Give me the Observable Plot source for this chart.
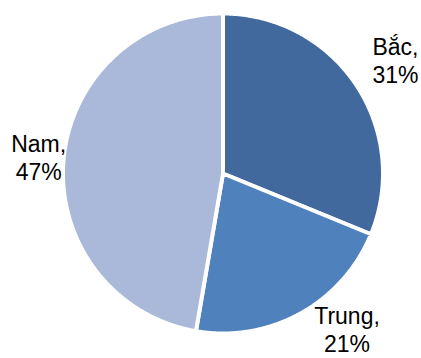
<!DOCTYPE html>
<html>
<head>
<meta charset="utf-8">
<script src="https://cdn.jsdelivr.net/npm/d3@7"></script>
<script src="https://cdn.jsdelivr.net/npm/@observablehq/plot@0.6"></script>
<style>
  html, body { margin: 0; padding: 0; background: #fff; }
  #chart svg { display: block; }
</style>
</head>
<body>
<div id="chart"></div>
<script>
// Data
const categories = ["Bắc", "Trung", "Nam"];
const shares = [31.2, 21.5, 47.3];
const shareLabels = ["31%", "21%", "47%"];
const colors = ["#41699E", "#4F81BD", "#AAB9D9"];

// label nudges (pixels) relative to a point on the mid-angle ray
const labelNudge = [[13, -7], [31, -12], [7, 0]];

const W = 421, H = 358;
const cx = 222.5, cy = 173, R = 160;

const arcs = d3.pie().sort(null).value(d => d)(shares);

function slicePoints(a) {
  const pts = [{x: 0, y: 0}];
  const n = Math.max(2, Math.ceil((a.endAngle - a.startAngle) / (Math.PI / 360)));
  for (let i = 0; i <= n; i++) {
    const t = a.startAngle + (a.endAngle - a.startAngle) * i / n;
    pts.push({x: Math.sin(t), y: Math.cos(t)});
  }
  return pts;
}

const sliceMarks = arcs.map((a, i) =>
  Plot.line(slicePoints(a), {
    x: "x", y: "y",
    fill: colors[i],
    stroke: "white",
    strokeWidth: 4,
    curve: "linear-closed"
  })
);

const labelDist = 1.2;
const labelMarks = arcs.map((a, i) => {
  const mid = (a.startAngle + a.endAngle) / 2;
  return Plot.text([{
    x: labelDist * Math.sin(mid),
    y: labelDist * Math.cos(mid),
    t: categories[i] + ",\n" + shareLabels[i]
  }], {
    x: "x", y: "y", text: "t",
    dx: labelNudge[i][0], dy: labelNudge[i][1],
    fontSize: 23,
    fontFamily: "'Liberation Sans', Arial, sans-serif",
    fill: "#000",
    textAnchor: "middle",
    lineAnchor: "middle",
    lineHeight: 1.22
  });
});

const chart = Plot.plot({
  width: W,
  height: H,
  margin: 0,
  x: {domain: [-1, 1], range: [cx - R, cx + R], axis: null},
  y: {domain: [-1, 1], range: [cy + R, cy - R], axis: null},
  style: {background: "#fff", overflow: "visible"},
  marks: [...sliceMarks, ...labelMarks]
});
document.getElementById("chart").appendChild(chart);
</script>
</body>
</html>
